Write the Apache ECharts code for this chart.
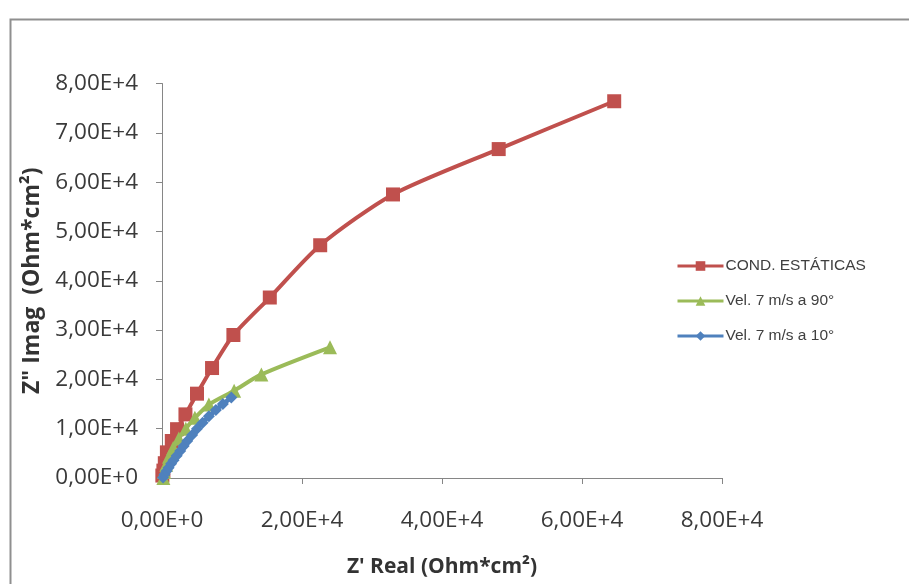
<!DOCTYPE html>
<html>
<head>
<meta charset="utf-8">
<script src="https://cdn.jsdelivr.net/npm/echarts@6/dist/echarts.min.js"></script>
<style>
html,body{margin:0;padding:0;background:#fff;}
#c{width:909px;height:584px;}
</style>
</head>
<body>
<div id="c"></div>
<script>
// Data (Z' real, Z'' imag in Ohm*cm²)
const seriesNames = ['COND. ESTÁTICAS', 'Vel. 7 m/s a 90°', 'Vel. 7 m/s a 10°'];
const redX = [50, 200, 400, 700, 1400, 2150, 3350, 5000, 7150, 10200, 15400, 22600, 33000, 48100, 64600];
const redY = [500, 1500, 3000, 5200, 7500, 9900, 12900, 17100, 22300, 29000, 36600, 47200, 57500, 66700, 76400];
const greenX = [200, 300, 600, 1000, 1600, 2400, 3400, 4700, 6700, 10300, 14200, 24000];
const greenY = [0, 1200, 2700, 4300, 6100, 8000, 10000, 12200, 14900, 17700, 21000, 26500];
const blueX = [150, 350, 650, 950, 1300, 1650, 2100, 2600, 3100, 3600, 4300, 5000, 5800, 6700, 7700, 8700, 9900];
const blueY = [100, 700, 1400, 2100, 2900, 3600, 4500, 5500, 6500, 7500, 8700, 10000, 11200, 12500, 13800, 15000, 16300];
const xTitle = "Z' Real (Ohm*cm²)";
const yTitle = 'Z" Imag  (Ohm*cm²)';

function zip(a, b) { return a.map((v, i) => [v, b[i]]); }
function fmt(v) {
  if (v === 0) return '0,00E+0';
  return (v / 10000).toFixed(2).replace('.', ',') + 'E+4';
}

const tickFont = { fontFamily: 'Open Sans', fontSize: 22.5, color: '#3a3a3a' };
const axisLineStyle = { color: '#868686', width: 1 };

const chart = echarts.init(document.getElementById('c'), null, { renderer: 'canvas' });
chart.setOption({
  animation: false,
  backgroundColor: '#ffffff',
  graphic: [{
    type: 'rect', left: 8, top: 17, shape: { width: 960, height: 640 },
    style: { fill: 'none', stroke: '#8f8f8f', lineWidth: 2 }, silent: true
  }],
  grid: { left: 162, right: 187, top: 83.5, bottom: 106, containLabel: false },
  legend: {
    orient: 'vertical', left: 671, top: 253,
    itemWidth: 46, itemHeight: 12, itemGap: 19,
    lineStyle: { width: 3 },
    textStyle: { fontFamily: 'Liberation Sans', fontSize: 15.5, color: '#404040', padding: [0, 0, 0, -3] },
    data: seriesNames
  },
  xAxis: {
    type: 'value', min: 0, max: 80000, interval: 20000,
    name: xTitle, nameLocation: 'middle', nameGap: 79,
    nameTextStyle: { fontFamily: 'Open Sans', fontSize: 21, fontWeight: 'bold', color: '#333' },
    axisLine: { show: true, lineStyle: axisLineStyle },
    axisTick: { show: true, inside: false, length: 6, lineStyle: axisLineStyle },
    axisLabel: Object.assign({ margin: 31, formatter: fmt }, tickFont),
    splitLine: { show: false }
  },
  yAxis: {
    type: 'value', min: 0, max: 80000, interval: 10000,
    name: yTitle, nameLocation: 'middle', nameGap: 117, nameRotate: 90,
    nameTextStyle: { fontFamily: 'Open Sans', fontSize: 23, fontWeight: 'bold', color: '#333' },
    axisLine: { show: true, lineStyle: axisLineStyle },
    axisTick: { show: true, inside: false, length: 6, lineStyle: axisLineStyle },
    axisLabel: Object.assign({ margin: 24, formatter: fmt }, tickFont),
    splitLine: { show: false }
  },
  series: [
    {
      name: seriesNames[0], type: 'line', data: zip(redX, redY), smooth: 0.25,
      symbol: 'rect', symbolSize: 14,
      lineStyle: { color: '#C0504D', width: 4 },
      itemStyle: { color: '#C0504D' }, z: 3
    },
    {
      name: seriesNames[1], type: 'line', data: zip(greenX, greenY), smooth: 0.25,
      symbol: 'triangle', symbolSize: 14,
      lineStyle: { color: '#9BBB59', width: 4 },
      itemStyle: { color: '#9BBB59' }, z: 4
    },
    {
      name: seriesNames[2], type: 'line', data: zip(blueX, blueY), smooth: 0.25,
      symbol: 'diamond', symbolSize: 12,
      lineStyle: { color: '#4F81BD', width: 4.5 },
      itemStyle: { color: '#4F81BD' }, z: 5
    }
  ]
});
</script>
</body>
</html>
